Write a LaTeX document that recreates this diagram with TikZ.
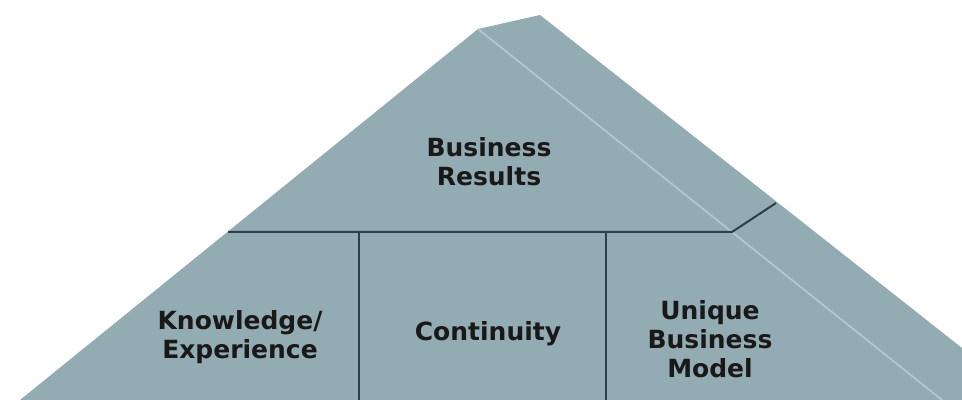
\documentclass[tikz,border=0pt]{standalone}
\usepackage{fontspec}
\setmainfont{DejaVu Sans}
\usepackage{tikz}
\usetikzlibrary{calc}
\definecolor{slab}{RGB}{147,172,179}
\definecolor{edge}{RGB}{46,64,70}
\definecolor{ridge}{RGB}{182,202,207}

\begin{document}
\begin{tikzpicture}[x=0.5pt, y=-0.5pt, every node/.style = {align=center, font=\bfseries\fontsize{12.5}{14.5}\selectfont, text=black!90}, part/.style = {draw=edge, line width=1pt}]
  \useasboundingbox (0,0) rectangle (962,400);
  \coordinate (front) at (478,29);
  \coordinate (back) at (540,15);
  \fill[slab] (20,400) -- (front) -- (back) -- (962,348) -- (962,400) -- cycle;
  \draw[ridge, line width=0.8pt] (front) -- (942,400);
  \coordinate (left) at (228,232);
  \coordinate (corner) at (732,232);
  \draw[part] (left) -- (corner) -- (776,203);
  \draw[part] (359,232) -- (359,400);
  \draw[part] (606,232) -- (606,400);
  \node (results) at (489,162) {Business\\Results};
  \node (knowledge) at (240,337) {Knowledge/\\Experience};
  \node (continuity) at (488,334) {Continuity};
  \node (unique) at (710,339) {Unique\\Business\\Model};
\end{tikzpicture}
\end{document}
